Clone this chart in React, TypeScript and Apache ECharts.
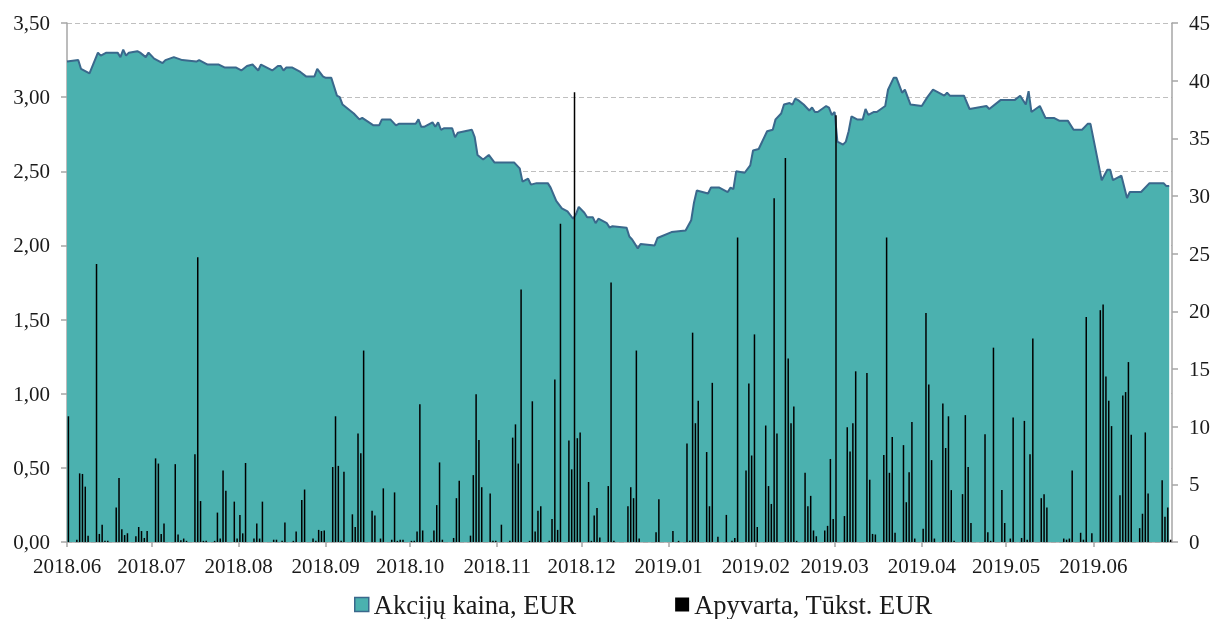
import React, { useEffect, useRef } from "react";
import * as echarts from "echarts";

const FONT = "'Liberation Serif', 'Times New Roman', serif";

const AXIS_START = "2018-06-01";
const AXIS_END = "2019-06-29";
const BAR_END = "2019-06-28";

const PRICE_NAME = "Akcijų kaina, EUR";
const TURNOVER_NAME = "Apyvarta, Tūkst. EUR";

const priceAxisTicks = { min: 0, max: 3.5, step: 0.5 };
const turnoverAxisTicks = { min: 0, max: 45, step: 5 };

// Share price, EUR (vertices of the price line)
const sharePrice: [string, number][] = [
  ["2018-06-01", 3.24], ["2018-06-05", 3.25], ["2018-06-06", 3.19], ["2018-06-07", 3.18],
  ["2018-06-09", 3.16], ["2018-06-12", 3.3], ["2018-06-13", 3.28], ["2018-06-15", 3.3],
  ["2018-06-19", 3.3], ["2018-06-20", 3.27], ["2018-06-21", 3.32], ["2018-06-22", 3.28],
  ["2018-06-23", 3.3], ["2018-06-26", 3.31], ["2018-06-27", 3.3], ["2018-06-29", 3.27],
  ["2018-06-30", 3.3], ["2018-07-02", 3.26], ["2018-07-05", 3.23], ["2018-07-06", 3.25],
  ["2018-07-09", 3.27], ["2018-07-12", 3.25], ["2018-07-17", 3.24], ["2018-07-18", 3.25],
  ["2018-07-21", 3.22], ["2018-07-25", 3.22], ["2018-07-27", 3.2], ["2018-07-31", 3.2],
  ["2018-08-02", 3.18], ["2018-08-04", 3.21], ["2018-08-06", 3.22], ["2018-08-08", 3.18],
  ["2018-08-09", 3.22], ["2018-08-13", 3.18], ["2018-08-15", 3.21], ["2018-08-16", 3.21],
  ["2018-08-17", 3.18], ["2018-08-18", 3.2], ["2018-08-20", 3.2], ["2018-08-22", 3.18],
  ["2018-08-23", 3.17], ["2018-08-25", 3.14], ["2018-08-28", 3.14], ["2018-08-29", 3.19],
  ["2018-08-31", 3.14], ["2018-09-01", 3.13], ["2018-09-03", 3.13], ["2018-09-05", 3.01],
  ["2018-09-06", 3.0], ["2018-09-07", 2.95], ["2018-09-11", 2.89], ["2018-09-13", 2.85],
  ["2018-09-14", 2.86], ["2018-09-18", 2.81], ["2018-09-20", 2.81], ["2018-09-21", 2.85],
  ["2018-09-24", 2.85], ["2018-09-26", 2.81], ["2018-09-27", 2.82], ["2018-10-03", 2.82],
  ["2018-10-04", 2.85], ["2018-10-05", 2.8], ["2018-10-06", 2.8], ["2018-10-09", 2.83],
  ["2018-10-10", 2.8], ["2018-10-11", 2.83], ["2018-10-12", 2.78], ["2018-10-13", 2.79],
  ["2018-10-16", 2.79], ["2018-10-17", 2.73], ["2018-10-18", 2.76], ["2018-10-23", 2.78],
  ["2018-10-24", 2.73], ["2018-10-25", 2.61], ["2018-10-27", 2.58], ["2018-10-29", 2.61],
  ["2018-10-31", 2.56], ["2018-11-07", 2.56], ["2018-11-09", 2.52], ["2018-11-10", 2.43],
  ["2018-11-12", 2.45], ["2018-11-13", 2.41], ["2018-11-15", 2.42], ["2018-11-19", 2.42],
  ["2018-11-20", 2.39], ["2018-11-22", 2.3], ["2018-11-24", 2.25], ["2018-11-26", 2.23],
  ["2018-11-28", 2.18], ["2018-11-29", 2.21], ["2018-11-30", 2.26], ["2018-12-02", 2.22],
  ["2018-12-03", 2.19], ["2018-12-05", 2.19], ["2018-12-06", 2.15], ["2018-12-07", 2.18],
  ["2018-12-10", 2.15], ["2018-12-11", 2.12], ["2018-12-12", 2.13], ["2018-12-17", 2.12],
  ["2018-12-18", 2.06], ["2018-12-19", 2.04], ["2018-12-21", 1.98], ["2018-12-22", 2.01],
  ["2018-12-27", 2.0], ["2018-12-28", 2.05], ["2019-01-02", 2.09], ["2019-01-07", 2.1],
  ["2019-01-09", 2.17], ["2019-01-10", 2.29], ["2019-01-11", 2.37], ["2019-01-15", 2.35],
  ["2019-01-16", 2.39], ["2019-01-19", 2.39], ["2019-01-22", 2.36], ["2019-01-23", 2.39],
  ["2019-01-24", 2.38], ["2019-01-25", 2.5], ["2019-01-28", 2.49], ["2019-01-30", 2.54],
  ["2019-01-31", 2.64], ["2019-02-02", 2.65], ["2019-02-05", 2.77], ["2019-02-07", 2.78],
  ["2019-02-08", 2.85], ["2019-02-10", 2.89], ["2019-02-11", 2.95], ["2019-02-13", 2.96],
  ["2019-02-14", 2.95], ["2019-02-15", 2.99], ["2019-02-16", 2.98], ["2019-02-18", 2.95],
  ["2019-02-20", 2.91], ["2019-02-21", 2.93], ["2019-02-22", 2.9], ["2019-02-23", 2.9],
  ["2019-02-26", 2.94], ["2019-02-27", 2.93], ["2019-02-28", 2.88], ["2019-03-01", 2.9],
  ["2019-03-02", 2.7], ["2019-03-04", 2.68], ["2019-03-05", 2.7], ["2019-03-06", 2.77],
  ["2019-03-07", 2.87], ["2019-03-09", 2.85], ["2019-03-11", 2.85], ["2019-03-12", 2.92],
  ["2019-03-13", 2.88], ["2019-03-15", 2.9], ["2019-03-16", 2.9], ["2019-03-19", 2.94],
  ["2019-03-20", 3.05], ["2019-03-22", 3.13], ["2019-03-23", 3.13], ["2019-03-25", 3.03],
  ["2019-03-26", 3.05], ["2019-03-28", 2.95], ["2019-04-01", 2.94], ["2019-04-03", 3.0],
  ["2019-04-05", 3.05], ["2019-04-09", 3.01], ["2019-04-10", 3.03], ["2019-04-11", 3.01],
  ["2019-04-16", 3.01], ["2019-04-18", 2.92], ["2019-04-24", 2.94], ["2019-04-25", 2.92],
  ["2019-04-29", 2.98], ["2019-05-04", 2.98], ["2019-05-06", 3.01], ["2019-05-08", 2.95],
  ["2019-05-09", 3.04], ["2019-05-10", 2.9], ["2019-05-13", 2.94], ["2019-05-15", 2.86],
  ["2019-05-18", 2.86], ["2019-05-20", 2.84], ["2019-05-23", 2.84], ["2019-05-25", 2.78],
  ["2019-05-28", 2.78], ["2019-05-30", 2.82], ["2019-05-31", 2.82], ["2019-06-04", 2.44],
  ["2019-06-06", 2.51], ["2019-06-07", 2.51], ["2019-06-08", 2.44], ["2019-06-11", 2.47],
  ["2019-06-13", 2.32], ["2019-06-14", 2.36], ["2019-06-18", 2.36], ["2019-06-21", 2.42],
  ["2019-06-26", 2.42], ["2019-06-27", 2.4], ["2019-06-28", 2.4],
];

// Daily turnover, thousand EUR
const turnover: [string, number][] = [
  ["2018-06-01", 10.9], ["2018-06-04", 0.2], ["2018-06-05", 5.95], ["2018-06-06", 5.9],
  ["2018-06-07", 4.8], ["2018-06-08", 0.55], ["2018-06-11", 24.1], ["2018-06-12", 0.7],
  ["2018-06-13", 1.5], ["2018-06-14", 0.1], ["2018-06-15", 0.1], ["2018-06-18", 3.0],
  ["2018-06-19", 5.55], ["2018-06-20", 1.1], ["2018-06-21", 0.6], ["2018-06-22", 0.75],
  ["2018-06-25", 0.5], ["2018-06-26", 1.3], ["2018-06-27", 0.95], ["2018-06-28", 0.35],
  ["2018-06-29", 0.95], ["2018-07-02", 7.25], ["2018-07-03", 6.8], ["2018-07-04", 0.7],
  ["2018-07-05", 1.6], ["2018-07-09", 6.75], ["2018-07-10", 0.65], ["2018-07-11", 0.15],
  ["2018-07-12", 0.3], ["2018-07-13", 0.1], ["2018-07-16", 7.6], ["2018-07-17", 24.7],
  ["2018-07-18", 3.55], ["2018-07-19", 0.1], ["2018-07-20", 0.1], ["2018-07-23", 0.1],
  ["2018-07-24", 2.55], ["2018-07-25", 0.3], ["2018-07-26", 6.2], ["2018-07-27", 4.45],
  ["2018-07-30", 3.5], ["2018-07-31", 0.3], ["2018-08-01", 2.35], ["2018-08-02", 0.75],
  ["2018-08-03", 6.85], ["2018-08-06", 0.3], ["2018-08-07", 1.6], ["2018-08-08", 0.3],
  ["2018-08-09", 3.5], ["2018-08-13", 0.2], ["2018-08-14", 0.2], ["2018-08-16", 0.1],
  ["2018-08-17", 1.7], ["2018-08-20", 0.1], ["2018-08-21", 0.9], ["2018-08-23", 3.65],
  ["2018-08-24", 4.55], ["2018-08-27", 0.3], ["2018-08-28", 0.1], ["2018-08-29", 1.05],
  ["2018-08-30", 0.95], ["2018-08-31", 1.0], ["2018-09-03", 6.5], ["2018-09-04", 10.9],
  ["2018-09-05", 6.6], ["2018-09-06", 0.1], ["2018-09-07", 6.1], ["2018-09-10", 2.4],
  ["2018-09-11", 1.3], ["2018-09-12", 9.4], ["2018-09-13", 7.7], ["2018-09-14", 16.6],
  ["2018-09-17", 2.7], ["2018-09-18", 2.3], ["2018-09-20", 0.3], ["2018-09-21", 4.65],
  ["2018-09-24", 0.2], ["2018-09-25", 4.3], ["2018-09-26", 0.1], ["2018-09-27", 0.2],
  ["2018-09-28", 0.2], ["2018-10-01", 0.1], ["2018-10-02", 0.1], ["2018-10-03", 0.9],
  ["2018-10-04", 11.95], ["2018-10-05", 1.0], ["2018-10-08", 0.1], ["2018-10-09", 1.0],
  ["2018-10-10", 3.2], ["2018-10-11", 6.9], ["2018-10-12", 0.2], ["2018-10-16", 0.35],
  ["2018-10-17", 3.8], ["2018-10-18", 5.3], ["2018-10-22", 0.55], ["2018-10-23", 5.8],
  ["2018-10-24", 12.8], ["2018-10-25", 8.85], ["2018-10-26", 4.75], ["2018-10-29", 4.2],
  ["2018-10-30", 0.1], ["2018-10-31", 0.1], ["2018-11-02", 1.5], ["2018-11-05", 0.1],
  ["2018-11-06", 9.05], ["2018-11-07", 10.2], ["2018-11-08", 6.8], ["2018-11-09", 21.9],
  ["2018-11-12", 0.1], ["2018-11-13", 12.2], ["2018-11-14", 0.9], ["2018-11-15", 2.7],
  ["2018-11-16", 3.1], ["2018-11-19", 0.1], ["2018-11-20", 2.0], ["2018-11-21", 14.1],
  ["2018-11-22", 1.05], ["2018-11-23", 27.6], ["2018-11-26", 8.8], ["2018-11-27", 6.3],
  ["2018-11-28", 39.0], ["2018-11-29", 9.0], ["2018-11-30", 9.5], ["2018-12-03", 5.2],
  ["2018-12-04", 0.1], ["2018-12-05", 2.3], ["2018-12-06", 2.95], ["2018-12-07", 0.4],
  ["2018-12-10", 4.85], ["2018-12-11", 22.5], ["2018-12-12", 0.1], ["2018-12-17", 3.1],
  ["2018-12-18", 4.75], ["2018-12-19", 3.8], ["2018-12-20", 16.6], ["2018-12-21", 0.3],
  ["2018-12-27", 0.85], ["2018-12-28", 3.7], ["2019-01-02", 0.95], ["2019-01-04", 0.1],
  ["2019-01-07", 8.55], ["2019-01-08", 0.1], ["2019-01-09", 18.15], ["2019-01-10", 10.3],
  ["2019-01-11", 12.25], ["2019-01-14", 7.8], ["2019-01-15", 3.1], ["2019-01-16", 13.8],
  ["2019-01-18", 0.45], ["2019-01-21", 2.35], ["2019-01-23", 0.1], ["2019-01-24", 0.35],
  ["2019-01-25", 26.4], ["2019-01-28", 6.2], ["2019-01-29", 13.75], ["2019-01-30", 7.5],
  ["2019-01-31", 18.0], ["2019-02-01", 1.3], ["2019-02-04", 10.1], ["2019-02-05", 4.85],
  ["2019-02-06", 3.3], ["2019-02-07", 29.8], ["2019-02-08", 9.4], ["2019-02-11", 33.3],
  ["2019-02-12", 15.9], ["2019-02-13", 10.3], ["2019-02-14", 11.75], ["2019-02-15", 0.1],
  ["2019-02-18", 6.0], ["2019-02-19", 3.1], ["2019-02-20", 4.0], ["2019-02-21", 1.0],
  ["2019-02-22", 0.5], ["2019-02-25", 1.0], ["2019-02-26", 1.4], ["2019-02-27", 7.2],
  ["2019-02-28", 2.0], ["2019-03-01", 37.0], ["2019-03-04", 2.25], ["2019-03-05", 9.95],
  ["2019-03-06", 7.85], ["2019-03-07", 10.3], ["2019-03-08", 14.8], ["2019-03-12", 14.65],
  ["2019-03-13", 5.4], ["2019-03-14", 0.7], ["2019-03-15", 0.65], ["2019-03-18", 7.55],
  ["2019-03-19", 26.4], ["2019-03-20", 6.0], ["2019-03-21", 9.1], ["2019-03-22", 0.8],
  ["2019-03-25", 8.4], ["2019-03-26", 3.45], ["2019-03-27", 6.05], ["2019-03-28", 10.4],
  ["2019-03-29", 0.3], ["2019-04-01", 1.15], ["2019-04-02", 19.85], ["2019-04-03", 13.65],
  ["2019-04-04", 7.1], ["2019-04-05", 0.3], ["2019-04-08", 12.0], ["2019-04-09", 8.15],
  ["2019-04-10", 10.9], ["2019-04-11", 4.5], ["2019-04-12", 0.1], ["2019-04-15", 4.15],
  ["2019-04-16", 11.0], ["2019-04-17", 6.5], ["2019-04-18", 1.65], ["2019-04-23", 9.35],
  ["2019-04-24", 0.85], ["2019-04-25", 0.1], ["2019-04-26", 16.85], ["2019-04-29", 4.5],
  ["2019-04-30", 1.65], ["2019-05-02", 0.3], ["2019-05-03", 10.8], ["2019-05-06", 0.35],
  ["2019-05-07", 10.5], ["2019-05-08", 0.2], ["2019-05-09", 7.6], ["2019-05-10", 17.65],
  ["2019-05-13", 3.8], ["2019-05-14", 4.15], ["2019-05-15", 3.0], ["2019-05-21", 0.3],
  ["2019-05-22", 0.2], ["2019-05-23", 0.3], ["2019-05-24", 6.2], ["2019-05-27", 0.8],
  ["2019-05-28", 0.2], ["2019-05-29", 19.5], ["2019-05-31", 0.75], ["2019-06-03", 20.1],
  ["2019-06-04", 20.6], ["2019-06-05", 14.35], ["2019-06-06", 12.25], ["2019-06-07", 10.05],
  ["2019-06-10", 4.05], ["2019-06-11", 12.7], ["2019-06-12", 13.0], ["2019-06-13", 15.6],
  ["2019-06-14", 9.3], ["2019-06-17", 1.2], ["2019-06-18", 2.45], ["2019-06-19", 9.5],
  ["2019-06-20", 4.2], ["2019-06-25", 5.35], ["2019-06-26", 2.2], ["2019-06-27", 3.0],
  ["2019-06-28", 0.2],
];

function dayRange(start: string, end: string): string[] {
  const out: string[] = [];
  let t = Date.parse(start + "T00:00:00Z");
  const e = Date.parse(end + "T00:00:00Z");
  while (t <= e) {
    out.push(new Date(t).toISOString().slice(0, 10));
    t += 86400000;
  }
  return out;
}

const isMonthStart = (_i: number, v: string) => String(v).slice(8) === "01";

export default function App() {
  const ref = useRef<HTMLDivElement>(null);

  useEffect(() => {
    if (!ref.current) return;
    const chart = echarts.init(ref.current, undefined, { renderer: "svg" });
    const axisDays = dayRange(AXIS_START, AXIS_END);
    const barDays = dayRange(AXIS_START, BAR_END);
    const axisGray = "#A6A6A6";
    const labelStyle = { fontFamily: FONT, fontSize: 21, color: "#1a1a1a" };

    chart.setOption({
      animation: false,
      textStyle: { fontFamily: FONT },
      grid: { left: 67, right: 41, top: 23, bottom: 77 },
      legend: {
        left: 354,
        top: 591,
        padding: 0,
        itemWidth: 14,
        itemHeight: 14,
        itemGap: 99,
        textStyle: { fontFamily: FONT, fontSize: 26.5, color: "#1a1a1a" },
        data: [
          { name: PRICE_NAME, icon: "rect", itemStyle: { color: "#4BB1AF", borderColor: "#3A688C", borderWidth: 1.5 } },
          { name: TURNOVER_NAME, icon: "rect", itemStyle: { color: "#000000" } },
        ],
      },
      xAxis: [
        {
          type: "category",
          data: axisDays,
          boundaryGap: false,
          axisLine: { show: true, lineStyle: { color: axisGray, width: 1.5 } },
          axisTick: { show: true, interval: isMonthStart, length: 5, lineStyle: { color: axisGray, width: 1.5 } },
          axisLabel: {
            ...labelStyle,
            interval: isMonthStart,
            margin: 13,
            formatter: (v: string) => v.slice(0, 4) + "." + v.slice(5, 7),
          },
          splitLine: { show: false },
        },
        {
          type: "category",
          data: barDays,
          boundaryGap: true,
          show: false,
        },
      ],
      yAxis: [
        {
          type: "value",
          position: "left",
          min: priceAxisTicks.min,
          max: priceAxisTicks.max,
          interval: priceAxisTicks.step,
          axisLine: { show: true, lineStyle: { color: axisGray, width: 1.5 } },
          axisTick: { show: true, length: 6, lineStyle: { color: axisGray, width: 1.5 } },
          axisLabel: { ...labelStyle, margin: 17, formatter: (v: number) => v.toFixed(2).replace(".", ",") },
          splitLine: { show: true, lineStyle: { color: "#BFBFBF", width: 1, type: [5, 3] } },
        },
        {
          type: "value",
          position: "right",
          min: turnoverAxisTicks.min,
          max: turnoverAxisTicks.max,
          interval: turnoverAxisTicks.step,
          axisLine: { show: true, lineStyle: { color: axisGray, width: 1.5 } },
          axisTick: { show: true, length: 6, lineStyle: { color: axisGray, width: 1.5 } },
          axisLabel: { ...labelStyle, margin: 17 },
          splitLine: { show: false },
        },
      ],
      series: [
        {
          name: PRICE_NAME,
          type: "line",
          xAxisIndex: 0,
          yAxisIndex: 0,
          data: sharePrice,
          symbol: "none",
          lineStyle: { color: "#3A688C", width: 2 },
          itemStyle: { color: "#4BB1AF" },
          areaStyle: { color: "#4BB1AF", opacity: 1 },
          z: 2,
        },
        {
          name: TURNOVER_NAME,
          type: "bar",
          xAxisIndex: 1,
          yAxisIndex: 1,
          data: turnover,
          barWidth: 1.5,
          itemStyle: { color: "#000000" },
          z: 3,
        },
      ],
    });
    return () => chart.dispose();
  }, []);

  return (
    <div
      ref={ref}
      style={{ position: "fixed", left: 0, top: 0, width: 1213, height: 619 }}
    />
  );
}
